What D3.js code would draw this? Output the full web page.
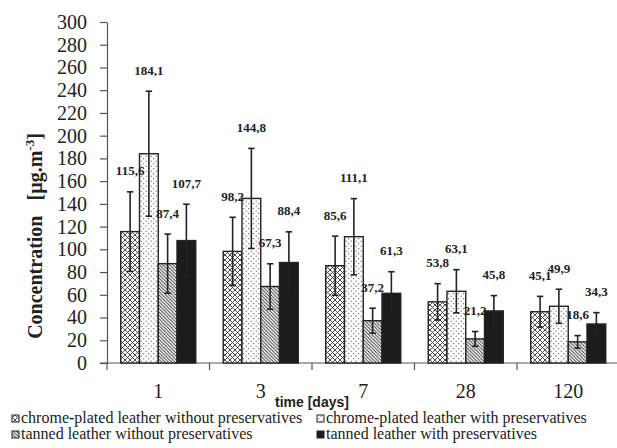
<!DOCTYPE html>
<html><head><meta charset="utf-8">
<script src="https://cdn.jsdelivr.net/npm/d3@7"></script>
<style>body{margin:0;background:#fff}svg{display:block}</style>
</head><body>
<svg id="c" width="617" height="448"></svg>
<script>
// ---- data ----
const days = ["1", "3", "7", "28", "120"];
const seriesNames = [
  "chrome-plated leather without preservatives",
  "chrome-plated leather with preservatives",
  "tanned leather without preservatives",
  "tanned leather with preservatives"
];
const chromeWithout = [115.6, 98.2, 85.6, 53.8, 45.1];
const chromeWith    = [184.1, 144.8, 111.1, 63.1, 49.9];
const tannedWithout = [87.4, 67.3, 37.2, 21.2, 18.6];
const tannedWith    = [107.7, 88.4, 61.3, 45.8, 34.3];
const errChromeWithout = [35, 30, 26, 16, 13.5];
const errChromeWith    = [55, 44, 33.5, 19, 15];
const errTannedWithout = [26, 20, 11, 6.5, 5.5];
const errTannedWith    = [32, 27, 19, 13.5, 10];
const yTickValues = [0, 20, 40, 60, 80, 100, 120, 140, 160, 180, 200, 220, 240, 260, 280, 300];

const values = [chromeWithout, chromeWith, tannedWithout, tannedWith];
const errors = [errChromeWithout, errChromeWith, errTannedWithout, errTannedWith];
const fills = ["url(#pCross)", "url(#pDots)", "url(#pDiag)", "#1c1c1c"];

// ---- setup ----
const svg = d3.select("#c");
const serif = "'Liberation Serif','Times New Roman',serif";
const y = d3.scaleLinear().domain([0, 300]).range([363, 22]);
const x = d3.scaleBand().domain(days).range([107, 619.5]);
const x1 = d3.scaleBand().domain(d3.range(4)).range([0, x.bandwidth()]).paddingInner(0).paddingOuter(0.733);

// patterns
const defs = svg.append("defs");
const pc = defs.append("pattern").attr("id", "pCross").attr("patternUnits", "userSpaceOnUse")
  .attr("width", 5).attr("height", 5);
pc.append("rect").attr("width", 5).attr("height", 5).attr("fill", "#fff");
pc.append("path").attr("d", "M0,0L5,5M5,0L0,5").attr("stroke", "#3a3a3a").attr("stroke-width", 0.9);

const pd = defs.append("pattern").attr("id", "pDots").attr("patternUnits", "userSpaceOnUse")
  .attr("width", 5).attr("height", 5);
pd.append("rect").attr("width", 5).attr("height", 5).attr("fill", "#fff");
pd.append("circle").attr("cx", 1.2).attr("cy", 1.2).attr("r", 0.6).attr("fill", "#555");
pd.append("circle").attr("cx", 3.7).attr("cy", 3.7).attr("r", 0.6).attr("fill", "#555");

const w = 3.4;
const pg = defs.append("pattern").attr("id", "pDiag").attr("patternUnits", "userSpaceOnUse")
  .attr("width", w).attr("height", w);
pg.append("rect").attr("width", w).attr("height", w).attr("fill", "#fff");
pg.append("path").attr("d", `M0,0L${w},${w}M${-w/2},${w/2}L${w/2},${1.5*w}M${w/2},${-w/2}L${1.5*w},${w/2}`)
  .attr("stroke", "#333").attr("stroke-width", 0.95);

// ---- axes ----
const yAxis = d3.axisLeft(y).tickValues(yTickValues).tickSize(7).tickSizeOuter(0).tickPadding(13);
const gy = svg.append("g").attr("transform", "translate(107,0)").call(yAxis);
gy.select(".domain").attr("stroke", "#555").attr("stroke-width", 1.2);
gy.selectAll(".tick line").attr("stroke", "#555").attr("stroke-width", 1.2);
gy.selectAll(".tick text").attr("font-family", serif).attr("font-size", 20).attr("fill", "#222");

// x axis line and boundary ticks
svg.append("line").attr("x1", 100).attr("x2", 617).attr("y1", y(0)).attr("y2", y(0))
  .attr("stroke", "#555").attr("stroke-width", 1.2);
svg.append("g").selectAll("line").data(days).join("line")
  .attr("x1", d => x(d)).attr("x2", d => x(d))
  .attr("y1", y(0)).attr("y2", y(0) + 7)
  .attr("stroke", "#555").attr("stroke-width", 1.2);
const gx = svg.append("g").attr("transform", `translate(0,${y(0)})`)
  .call(d3.axisBottom(x).tickSize(0).tickPadding(21));
gx.select(".domain").remove();
gx.selectAll(".tick text").attr("font-family", serif).attr("font-size", 20).attr("fill", "#222");

// ---- bars ----
const bars = [];
values.forEach((arr, s) => arr.forEach((v, i) => bars.push({ s, day: days[i], v, e: errors[s][i] })));

const bx = d => x(d.day) + x1(d.s);
const bw = x1.bandwidth();

svg.append("g").selectAll("rect").data(bars).join("rect")
  .attr("x", bx).attr("width", bw)
  .attr("y", d => y(d.v)).attr("height", d => y(0) - y(d.v))
  .attr("fill", d => fills[d.s])
  .attr("stroke", "#222").attr("stroke-width", 1.4);

// error bars
const eg = svg.append("g").attr("stroke", "#222").attr("stroke-width", 1.6);
bars.forEach(d => {
  const cx = bx(d) + bw / 2;
  eg.append("line").attr("x1", cx).attr("x2", cx).attr("y1", y(d.v + d.e)).attr("y2", y(d.v - d.e));
  eg.append("line").attr("x1", cx - 3.2).attr("x2", cx + 3.2).attr("y1", y(d.v + d.e)).attr("y2", y(d.v + d.e));
  eg.append("line").attr("x1", cx - 3.2).attr("x2", cx + 3.2).attr("y1", y(d.v - d.e)).attr("y2", y(d.v - d.e));
});

// value labels
svg.append("g").selectAll("text").data(bars).join("text")
  .attr("x", d => bx(d) + bw / 2)
  .attr("y", d => y(d.v + d.e) - 16.5)
  .attr("text-anchor", "middle")
  .attr("font-family", serif).attr("font-weight", "bold").attr("font-size", 13).attr("fill", "#222")
  .text(d => d.v.toFixed(1).replace(".", ","));

// ---- titles ----
const yt = svg.append("text")
  .attr("transform", "translate(42,236) rotate(-90)")
  .attr("text-anchor", "middle")
  .attr("font-family", serif).attr("font-weight", "bold").attr("font-size", 20).attr("fill", "#222");
yt.append("tspan").text("Concentration\u00a0\u00a0\u00a0[µg.m");
yt.append("tspan").attr("dy", -8).attr("font-size", 13).text("-3");
yt.append("tspan").attr("dy", 8).text("]");

svg.append("text")
  .attr("x", x(days[2])).attr("y", 407)
  .attr("text-anchor", "middle")
  .attr("font-family", "'Liberation Sans',Arial,sans-serif").attr("font-weight", "bold")
  .attr("font-size", 14).attr("fill", "#222")
  .text("time [days]");

// ---- legend ----
const legendPos = [[12, 423], [317, 423], [12, 439], [317, 439]];
seriesNames.forEach((name, s) => {
  const [lx, ly] = legendPos[s];
  svg.append("rect").attr("x", lx).attr("y", ly - 8).attr("width", 7).attr("height", 7)
    .attr("fill", fills[s]).attr("stroke", "#222").attr("stroke-width", 1);
  const t = svg.append("text").attr("x", lx + 9).attr("y", ly)
    .attr("font-family", serif).attr("font-size", 16).attr("fill", "#222");
  const parts = name.split("-");
  if (parts.length > 1) {
    t.append("tspan").text(parts[0]);
    t.append("tspan").attr("font-weight", "bold").text("-");
    t.append("tspan").text(parts.slice(1).join("-"));
  } else {
    t.text(name);
  }
});
</script>
</body></html>
